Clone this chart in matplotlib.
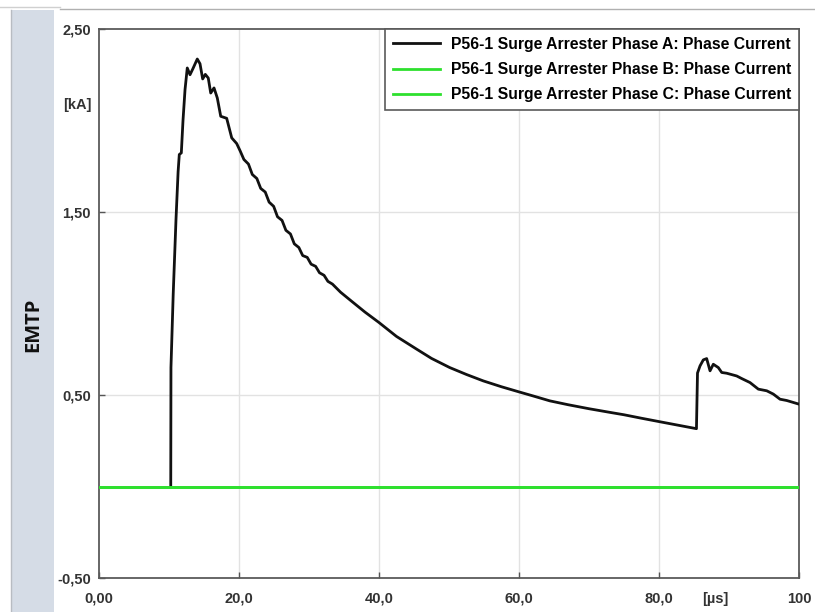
import matplotlib
matplotlib.use("Agg")
import matplotlib.pyplot as plt
from matplotlib.patches import Rectangle
from matplotlib.lines import Line2D

# Surge arrester currents [kA] versus time [µs]
time_a = [10.25, 10.28, 10.6, 11.0, 11.3, 11.47, 11.76, 12.0, 12.29, 12.61,
          13.0, 13.39, 14.04, 14.43, 14.81, 15.19, 15.61, 15.96, 16.43, 16.9,
          17.39, 18.24, 18.96, 19.67, 20.15, 20.70, 21.35, 21.90, 22.55, 23.10,
          23.75, 24.30, 24.95, 25.50, 26.15, 26.70, 27.35, 27.90, 28.55, 29.10,
          29.75, 30.30, 30.95, 31.50, 32.15, 32.70, 33.35, 34.5, 36.0, 38.0,
          40.0, 42.5, 45.4, 47.5, 50.1, 52.5, 54.9, 57.5, 60.0, 62.0, 64.4,
          67.0, 70.0, 73.0, 75.0, 77.5, 80.1, 83.0, 85.35, 85.5,
          85.86, 86.33, 86.81, 87.29, 87.76, 88.47, 88.96, 89.67, 91.1, 91.81,
          93.0, 94.19, 95.39, 96.33, 97.29, 98.24, 100.0]
phase_a = [0.0, 0.65, 1.05, 1.46, 1.72, 1.814, 1.823, 2.0, 2.169, 2.287,
           2.250, 2.281, 2.336, 2.310, 2.227, 2.252, 2.232, 2.150, 2.178, 2.123,
           2.023, 2.012, 1.905, 1.874, 1.835, 1.787, 1.762, 1.705, 1.683, 1.629,
           1.609, 1.554, 1.531, 1.474, 1.454, 1.400, 1.380, 1.326, 1.306, 1.262,
           1.252, 1.215, 1.203, 1.168, 1.154, 1.121, 1.106, 1.062, 1.015, 0.953,
           0.896, 0.820, 0.750, 0.700, 0.650, 0.612, 0.577, 0.545, 0.517, 0.495, 0.468,
           0.447, 0.425, 0.405, 0.392, 0.373, 0.354, 0.333, 0.316, 0.620,
           0.659, 0.692, 0.699, 0.632, 0.668, 0.650, 0.623, 0.619, 0.604, 0.590,
           0.568, 0.532, 0.523, 0.505, 0.477, 0.470, 0.450]
time_b = [0.0, 100.0]
phase_b = [0.0, 0.0]
time_c = [0.0, 100.0]
phase_c = [0.0, 0.0]

series_labels = ["P56-1 Surge Arrester Phase A: Phase Current",
                 "P56-1 Surge Arrester Phase B: Phase Current",
                 "P56-1 Surge Arrester Phase C: Phase Current"]
x_ticks = [0, 20, 40, 60, 80, 100]
x_tick_labels = ["0,00", "20,0", "40,0", "60,0", "80,0", "100"]
y_ticks = [-0.5, 0.5, 1.5, 2.5]
y_tick_labels = ["-0,50", "0,50", "1,50", "2,50"]

W, H = 815, 612
fig = plt.figure(figsize=(W / 100, H / 100), dpi=100)
fig.patch.set_facecolor("white")

# side panel and header rule
fig.patches.append(Rectangle((11 / W, 0), 43 / W, 1 - 10 / H, transform=fig.transFigure,
                             facecolor="#d5dce6", edgecolor="none", zorder=0))
fig.lines.append(Line2D([10.5 / W, 10.5 / W], [0, 1 - 10 / H], transform=fig.transFigure,
                        color="#b8bcc2", lw=1))
fig.lines.append(Line2D([0, 60 / W], [1 - 7 / H, 1 - 7 / H], transform=fig.transFigure,
                        color="#d0d0d0", lw=1))
fig.lines.append(Line2D([60 / W, 1], [1 - 9 / H, 1 - 9 / H], transform=fig.transFigure,
                        color="#b0b0b0", lw=1))
fig.text(33 / W, 1 - 325 / H, "EMTP", rotation=90, ha="center", va="center",
         fontsize=14.5, fontweight="bold", family="Open Sans", color="#111111")

ax = fig.add_axes([99 / W, 1 - 578 / H, 700 / W, 549 / H])
ax.plot(time_a, phase_a, color="#111111", lw=2.0, label=series_labels[0], zorder=3)
ax.plot(time_b, phase_b, color="#2ee02e", lw=2.0, label=series_labels[1], zorder=4)
ax.plot(time_c, phase_c, color="#2ee02e", lw=2.0, label=series_labels[2], zorder=4)

ax.set_xlim(0, 100)
ax.set_ylim(-0.5, 2.5)
ax.set_xticks(x_ticks)
ax.set_xticklabels(x_tick_labels)
ax.set_yticks(y_ticks)
ax.set_yticklabels(y_tick_labels)

for gx in [20, 40, 60, 80]:
    ax.axvline(gx, color="#e2e2e2", lw=1, zorder=1)
for gy in [0.5, 1.5]:
    ax.axhline(gy, color="#e2e2e2", lw=1, zorder=1)

tick_font = dict(family="Liberation Sans", weight="bold", size=10.5)
ax.tick_params(axis="both", direction="in", length=4, width=1, color="#555555",
               labelcolor="#333333")
ax.tick_params(axis="x", pad=10)
ax.tick_params(axis="y", pad=6)
for lab in ax.get_xticklabels() + ax.get_yticklabels():
    lab.set_fontfamily(tick_font["family"])
    lab.set_fontweight("bold")
    lab.set_fontsize(tick_font["size"])

for sp in ax.spines.values():
    sp.set_color("#5a5a5a")
    sp.set_linewidth(1.3)

# unit labels
ax.text(-7 / 700, 1 - (105 - 29) / 549, "[kA]", transform=ax.transAxes, ha="right",
        va="center", color="#333333", **tick_font)
ax.annotate("[µs]", xy=(88, -0.5), xycoords="data", xytext=(0, -14),
            textcoords="offset pixels", ha="center", va="top", color="#333333",
            **tick_font)

leg = ax.legend(loc="upper right", borderaxespad=0, frameon=True, fancybox=False,
                prop=dict(family="Liberation Sans", weight="bold", size=11.3),
                handlelength=3.0, handletextpad=0.7, borderpad=0.5,
                labelspacing=0.65)
leg.get_frame().set_edgecolor("#5a5a5a")
leg.get_frame().set_linewidth(1.2)
leg.get_frame().set_alpha(1)
leg.set_zorder(5)

fig.savefig("out.png", dpi=100, facecolor="white")
